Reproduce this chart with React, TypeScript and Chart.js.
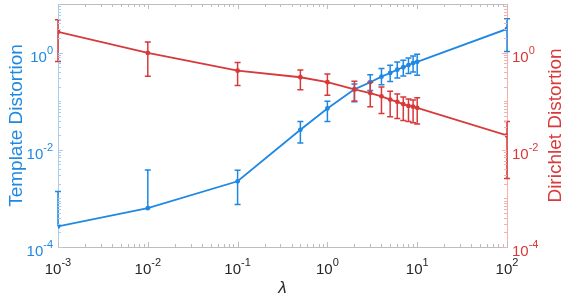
import React, { useEffect, useRef } from 'react';
import { Chart, registerables } from 'chart.js';

Chart.register(...registerables);

// ---- data ----
const lambdas = [0.001, 0.01, 0.1, 0.5, 1, 2, 3, 4, 5, 6, 7, 8, 9, 10, 100];

const templateMean = [0.000265, 0.00063, 0.00225, 0.0258, 0.0708, 0.175, 0.246, 0.32, 0.38, 0.445, 0.5, 0.553, 0.61, 0.646, 3.07];
const templateLow = [null, null, 0.00075, 0.0138, 0.038, 0.097, 0.166, 0.217, 0.255, 0.3, 0.33, 0.37, 0.4, 0.34, 1.05];
const templateHigh = [0.00138, 0.00386, 0.0038, 0.038, 0.1, 0.227, 0.35, 0.47, 0.55, 0.64, 0.7, 0.77, 0.85, 0.92, 4.96];

const dirichletMean = [2.67, 0.986, 0.425, 0.311, 0.246, 0.175, 0.147, 0.126, 0.108, 0.097, 0.087, 0.08, 0.077, 0.073, 0.0198];
const dirichletLow = [0.657, 0.326, 0.211, 0.172, 0.132, 0.101, 0.077, 0.056, 0.048, 0.044, 0.04, 0.038, 0.036, 0.034, 0.00257];
const dirichletHigh = [4.73, 1.65, 0.627, 0.438, 0.363, 0.258, 0.246, 0.195, 0.16, 0.141, 0.122, 0.111, 0.106, 0.118, 0.038];

// tick labels: base "10" with these exponents
const xTickExponents = ['-3', '-2', '-1', '0', '1', '2'];
const yTickExponents = ['-4', '-2', '0'];
const xTickValues = xTickExponents.map((e) => Math.pow(10, Number(e)));
const yTickValues = yTickExponents.map((e) => Math.pow(10, Number(e)));

const BLUE = '#1f88e3';
const RED = '#d8393a';
const BLUE_AXIS = '#a9cdef';
const RED_AXIS = '#f2b0b0';
const GRAY_AXIS = '#bdbdbd';
const TEXT = '#262626';
const FONT = '"Liberation Sans", Arial, Helvetica, sans-serif';

const errLow: Record<string, (number | null)[]> = { y: templateLow, y2: dirichletLow };
const errHigh: Record<string, number[]> = { y: templateHigh, y2: dirichletHigh };

const errorBarPlugin = {
  id: 'errorBars',
  afterDatasetDraw(chart: any, args: any) {
    const ds = chart.data.datasets[args.index];
    const axisId = ds.yAxisID;
    const ys = chart.scales[axisId];
    const xs = chart.scales.x;
    const lows = errLow[axisId];
    const highs = errHigh[axisId];
    const ctx = chart.ctx;
    ctx.save();
    ctx.strokeStyle = ds.borderColor;
    ctx.lineWidth = 1.5;
    const cap = 3;
    lambdas.forEach((lx, i) => {
      const px = xs.getPixelForValue(lx);
      const pm = ys.getPixelForValue(ds.data[i].y);
      const ph = ys.getPixelForValue(highs[i]);
      const lv = lows[i];
      const pl = lv == null ? pm : ys.getPixelForValue(lv);
      ctx.beginPath();
      ctx.moveTo(px, pl);
      ctx.lineTo(px, ph);
      ctx.moveTo(px - cap, ph);
      ctx.lineTo(px + cap, ph);
      if (lv != null) {
        ctx.moveTo(px - cap, pl);
        ctx.lineTo(px + cap, pl);
      }
      ctx.stroke();
    });
    ctx.restore();
  },
};

const logTicks = (lo: number, hi: number) => {
  const out: number[] = [];
  for (let d = lo; d < hi; d++) {
    for (let k = 1; k <= 9; k++) out.push(k * Math.pow(10, d));
  }
  out.push(Math.pow(10, hi));
  return out;
};

const BASE_FONT = `15px ${FONT}`;
const EXP_FONT = `11px ${FONT}`;

// draws "10" with a raised exponent; anchor: 'center' | 'right' | 'left'
function drawPow(ctx: any, exp: string, x: number, baseline: number, anchor: string, color: string) {
  ctx.font = BASE_FONT;
  const wb = ctx.measureText('10').width;
  ctx.font = EXP_FONT;
  const we = ctx.measureText(exp).width;
  const total = wb + we;
  let x0 = x;
  if (anchor === 'center') x0 = x - total / 2;
  else if (anchor === 'right') x0 = x - total;
  ctx.fillStyle = color;
  ctx.textAlign = 'left';
  ctx.textBaseline = 'alphabetic';
  ctx.font = BASE_FONT;
  ctx.fillText('10', x0, baseline);
  ctx.font = EXP_FONT;
  ctx.fillText(exp, x0 + wb, baseline - 8);
}

const frameTicksPlugin = {
  id: 'frameTicks',
  afterDraw(chart: any) {
    const { ctx, chartArea } = chart;
    const { left, right, top, bottom } = chartArea;
    const xs = chart.scales.x;
    const yl = chart.scales.y;
    const yr = chart.scales.y2;
    ctx.save();
    ctx.lineWidth = 1;
    // top frame line
    ctx.strokeStyle = GRAY_AXIS;
    ctx.beginPath();
    ctx.moveTo(left, top + 0.5);
    ctx.lineTo(right, top + 0.5);
    ctx.stroke();
    // x ticks (bottom & top)
    const isMajorX = (v: number) => xTickValues.some((t) => Math.abs(Math.log10(t) - Math.log10(v)) < 1e-6);
    ctx.beginPath();
    logTicks(-3, 2).forEach((v) => {
      const px = Math.round(xs.getPixelForValue(v)) + 0.5;
      const len = isMajorX(v) ? 5 : 3;
      ctx.moveTo(px, bottom);
      ctx.lineTo(px, bottom - len);
      ctx.moveTo(px, top);
      ctx.lineTo(px, top + len);
    });
    ctx.stroke();
    const isMajorY = (v: number) => yTickValues.some((t) => Math.abs(Math.log10(t) - Math.log10(v)) < 1e-6);
    // left y ticks
    ctx.strokeStyle = BLUE_AXIS;
    ctx.beginPath();
    logTicks(-4, 1).forEach((v) => {
      const py = Math.round(yl.getPixelForValue(v)) + 0.5;
      const len = isMajorY(v) ? 5 : 3;
      ctx.moveTo(left, py);
      ctx.lineTo(left + len, py);
    });
    ctx.stroke();
    // right y ticks
    ctx.strokeStyle = RED_AXIS;
    ctx.beginPath();
    logTicks(-4, 1).forEach((v) => {
      const py = Math.round(yr.getPixelForValue(v)) + 0.5;
      const len = isMajorY(v) ? 5 : 3;
      ctx.moveTo(right, py);
      ctx.lineTo(right - len, py);
    });
    ctx.stroke();

    // tick labels
    xTickExponents.forEach((e, i) => {
      drawPow(ctx, e, xs.getPixelForValue(xTickValues[i]), bottom + 27, 'center', TEXT);
    });
    yTickExponents.forEach((e, i) => {
      const py = yl.getPixelForValue(yTickValues[i]);
      drawPow(ctx, e, left - 5, py + 9, 'right', BLUE);
      const pr = yr.getPixelForValue(yTickValues[i]);
      drawPow(ctx, e, right + 5, pr + 9, 'left', RED);
    });

    // right title (reads bottom-to-top)
    ctx.fillStyle = RED;
    ctx.font = `19px ${FONT}`;
    ctx.textAlign = 'center';
    ctx.textBaseline = 'middle';
    ctx.translate(556, (top + bottom) / 2);
    ctx.rotate(-Math.PI / 2);
    ctx.fillText('Dirichlet Distortion', 0, 0);
    ctx.restore();
  },
};

export default function App() {
  const ref = useRef<HTMLCanvasElement | null>(null);

  useEffect(() => {
    if (!ref.current) return;
    const chart = new Chart(ref.current, {
      type: 'line',
      data: {
        datasets: [
          {
            label: 'Template Distortion',
            data: lambdas.map((x, i) => ({ x, y: templateMean[i] })),
            yAxisID: 'y',
            borderColor: BLUE,
            backgroundColor: BLUE,
            borderWidth: 1.8,
            pointRadius: 2.4,
            pointBorderWidth: 0,
            pointBackgroundColor: BLUE,
            order: 1,
          },
          {
            label: 'Dirichlet Distortion',
            data: lambdas.map((x, i) => ({ x, y: dirichletMean[i] })),
            yAxisID: 'y2',
            borderColor: RED,
            backgroundColor: RED,
            borderWidth: 1.8,
            pointRadius: 2.4,
            pointBorderWidth: 0,
            pointBackgroundColor: RED,
            order: 0,
          },
        ],
      },
      options: {
        animation: false,
        responsive: true,
        maintainAspectRatio: false,
        layout: { padding: { top: 2, left: 0, right: 0, bottom: 0 } },
        plugins: { legend: { display: false }, tooltip: { enabled: false } },
        scales: {
          x: {
            type: 'logarithmic',
            position: 'bottom',
            min: 1e-3,
            max: 1e2,
            afterBuildTicks: (s: any) => {
              s.ticks = xTickValues.map((v) => ({ value: v, major: true }));
            },
            afterFit: (s: any) => {
              s.height = 51;
              s.paddingLeft = 0;
              s.paddingRight = 0;
            },
            grid: { display: true, drawOnChartArea: false, drawTicks: false },
            border: { display: true, color: GRAY_AXIS, width: 1 },
            ticks: { display: false },
            title: {
              display: true,
              text: 'λ',
              color: TEXT,
              padding: 0,
              font: { family: FONT, size: 17, style: 'italic' },
            },
          },
          y: {
            type: 'logarithmic',
            position: 'left',
            min: 1e-4,
            max: 10,
            afterBuildTicks: (s: any) => {
              s.ticks = yTickValues.map((v) => ({ value: v, major: true }));
            },
            afterFit: (s: any) => {
              s.width = 58;
              s.paddingTop = 0;
              s.paddingBottom = 0;
            },
            grid: { display: true, drawOnChartArea: false, drawTicks: false },
            border: { display: true, color: BLUE_AXIS, width: 1 },
            ticks: { display: false },
            title: {
              display: true,
              text: 'Template Distortion',
              color: BLUE,
              padding: { top: 5, bottom: 0 },
              font: { family: FONT, size: 19 },
            },
          },
          y2: {
            type: 'logarithmic',
            position: 'right',
            min: 1e-4,
            max: 10,
            afterBuildTicks: (s: any) => {
              s.ticks = yTickValues.map((v) => ({ value: v, major: true }));
            },
            afterFit: (s: any) => {
              s.width = 61;
              s.paddingTop = 0;
              s.paddingBottom = 0;
            },
            grid: { display: true, drawOnChartArea: false, drawTicks: false },
            border: { display: true, color: RED_AXIS, width: 1 },
            ticks: { display: false },
          },
        },
      },
      plugins: [errorBarPlugin, frameTicksPlugin],
    } as any);
    return () => chart.destroy();
  }, []);

  return (
    <div style={{ position: 'fixed', left: 0, top: 0, width: 568, height: 298, background: '#fff' }}>
      <canvas ref={ref} />
    </div>
  );
}
